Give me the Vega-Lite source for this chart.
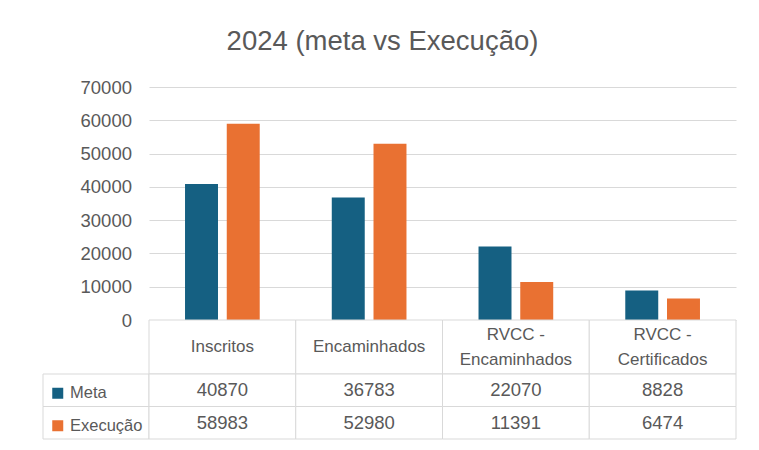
{
  "$schema": "https://vega.github.io/schema/vega-lite/v6.json",
  "background": "white",
  "padding": {"left": 42, "top": 27, "right": 22, "bottom": 8},
  "title": {"text": "2024 (meta vs Execução)", "anchor": "middle", "dx": -7, "font": "Liberation Sans", "fontSize": 27.5, "fontWeight": "normal", "color": "#595959", "offset": 23},
  "datasets": {
    "main": [
      {"cat": "Inscritos", "series": "Meta", "value": 40870},
      {"cat": "Encaminhados", "series": "Meta", "value": 36783},
      {"cat": "RVCC -\nEncaminhados", "series": "Meta", "value": 22070},
      {"cat": "RVCC -\nCertificados", "series": "Meta", "value": 8828},
      {"cat": "Inscritos", "series": "Execução", "value": 58983},
      {"cat": "Encaminhados", "series": "Execução", "value": 52980},
      {"cat": "RVCC -\nEncaminhados", "series": "Execução", "value": 11391},
      {"cat": "RVCC -\nCertificados", "series": "Execução", "value": 6474}
    ]
  },
  "concat": [
    {"width": 106, "height": 233, "data": {"values": [{}]}, "mark": {"type": "rect", "opacity": 0}, "encoding": {}},
    {
      "width": 587, "height": 233,
      "data": {"name": "main"},
      "mark": {"type": "bar"},
      "encoding": {
        "x": {"field": "cat", "type": "nominal", "sort": ["Inscritos", "Encaminhados", "RVCC -\nEncaminhados", "RVCC -\nCertificados"], "scale": {"paddingInner": 0.491, "paddingOuter": 0.2455}, "axis": null},
        "xOffset": {"field": "series", "type": "nominal", "sort": ["Meta", "Execução"], "scale": {"paddingInner": 0.21, "paddingOuter": 0}},
        "y": {"field": "value", "type": "quantitative", "scale": {"domain": [0, 70000], "nice": false},
          "axis": {"values": [0, 10000, 20000, 30000, 40000, 50000, 60000, 70000], "format": "d", "title": null, "grid": true, "gridColor": "#d9d9d9", "gridWidth": 1, "domain": false, "ticks": false, "labelPadding": 17.5, "labelFont": "Liberation Sans", "labelFontSize": 18.5, "labelColor": "#595959"}},
        "color": {"field": "series", "type": "nominal", "scale": {"domain": ["Meta", "Execução"], "range": ["#156082", "#e97132"]},
          "legend": {"orient": "none", "legendX": 6.5, "legendY": 298, "title": null, "symbolType": "square", "symbolSize": 121, "symbolStrokeWidth": 0, "labelFont": "Liberation Sans", "labelFontSize": 16.5, "labelColor": "#595959", "labelOffset": 4, "labelBaseline": "middle", "rowPadding": 15.5, "padding": 0}}
      }
    },
    {"width": 106, "height": 54, "data": {"values": [{}]}, "mark": {"type": "rect", "opacity": 0}, "encoding": {}},
    {
      "width": 587, "height": 54,
      "data": {"name": "main"},
      "transform": [{"filter": "datum.series === 'Meta'"}],
      "encoding": {
        "x": {"field": "cat", "type": "nominal", "sort": ["Inscritos", "Encaminhados", "RVCC -\nEncaminhados", "RVCC -\nCertificados"], "scale": {"paddingInner": 0, "paddingOuter": 0}, "axis": null}
      },
      "layer": [
        {"mark": {"type": "rect", "fill": "white", "stroke": "#d9d9d9", "strokeWidth": 1}},
        {"transform": [{"filter": "indexof(datum.cat, 'RVCC') < 0"}], "mark": {"type": "text", "font": "Liberation Sans", "fontSize": 17, "color": "#595959", "baseline": "middle"}, "encoding": {"text": {"field": "cat"}}},
        {"transform": [{"filter": "indexof(datum.cat, 'RVCC') >= 0"}], "mark": {"type": "text", "font": "Liberation Sans", "fontSize": 17, "color": "#595959", "lineBreak": "\n", "lineHeight": 25, "baseline": "middle", "dy": -12.5}, "encoding": {"text": {"field": "cat"}}}
      ]
    },
    {
      "width": 106, "height": 65,
      "data": {"name": "main"},
      "transform": [{"filter": "datum.cat === 'Inscritos'"}],
      "mark": {"type": "rect", "fill": "white", "stroke": "#d9d9d9", "strokeWidth": 1},
      "encoding": {
        "y": {"field": "series", "type": "nominal", "sort": ["Meta", "Execução"], "scale": {"paddingInner": 0, "paddingOuter": 0}, "axis": null}
      }
    },
    {
      "width": 587, "height": 65,
      "data": {"name": "main"},
      "encoding": {
        "x": {"field": "cat", "type": "nominal", "sort": ["Inscritos", "Encaminhados", "RVCC -\nEncaminhados", "RVCC -\nCertificados"], "scale": {"paddingInner": 0, "paddingOuter": 0}, "axis": null},
        "y": {"field": "series", "type": "nominal", "sort": ["Meta", "Execução"], "scale": {"paddingInner": 0, "paddingOuter": 0}, "axis": null}
      },
      "layer": [
        {"mark": {"type": "rect", "fill": "white", "stroke": "#d9d9d9", "strokeWidth": 1}},
        {"mark": {"type": "text", "font": "Liberation Sans", "fontSize": 18.5, "color": "#595959", "baseline": "middle"}, "encoding": {"text": {"field": "value", "type": "quantitative", "format": "d"}}}
      ]
    }
  ],
  "columns": 2,
  "spacing": 0,
  "bounds": "flush",
  "config": {"view": {"stroke": null}}
}
